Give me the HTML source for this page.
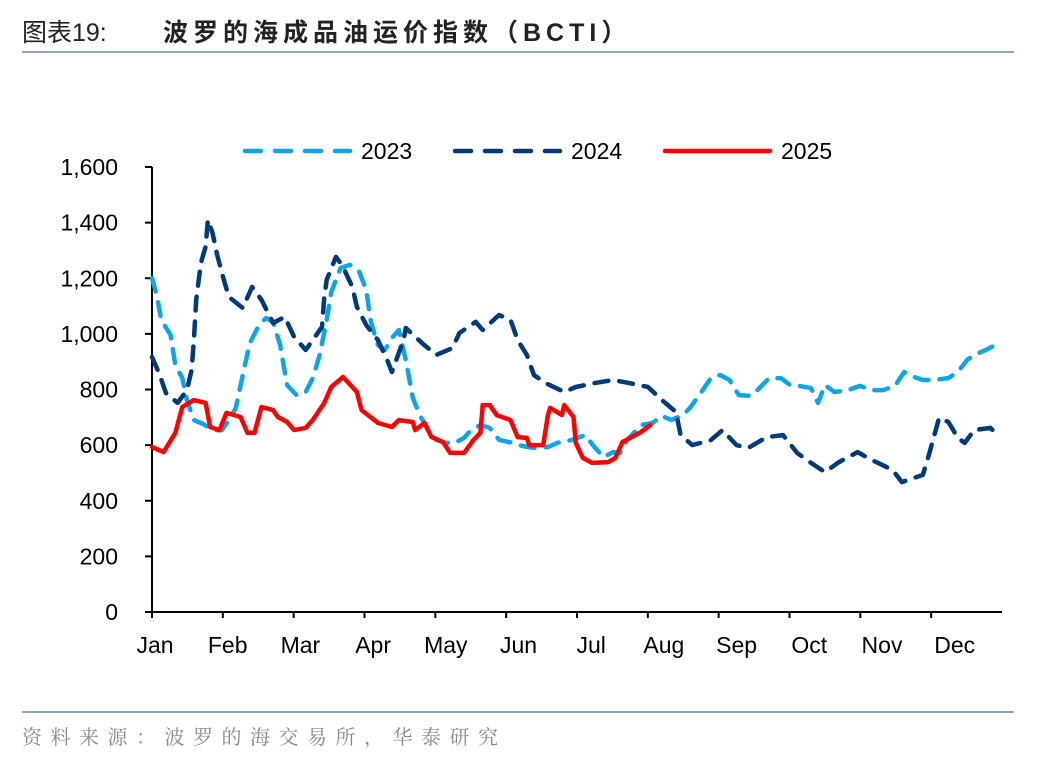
<!DOCTYPE html>
<html><head><meta charset="utf-8"><style>
body{margin:0;background:#fff;width:1048px;height:760px;overflow:hidden;font-family:"Liberation Sans","Noto Sans CJK SC",sans-serif}
</style></head><body>
<svg width="1048" height="760" xmlns="http://www.w3.org/2000/svg">
<text x="22" y="41" font-size="25" fill="#222" font-family="'Liberation Sans','Noto Sans CJK SC',sans-serif">图表19:<tspan x="163" font-weight="bold" letter-spacing="5">波罗的海成品油运价指数（BCTI）</tspan></text>
<line x1="22" y1="52" x2="1014" y2="52" stroke="#8fa4c0" stroke-width="2"/>
<line x1="22" y1="712" x2="1014" y2="712" stroke="#8fa4c0" stroke-width="2"/>
<text x="22" y="744" font-size="20" fill="#888" font-family="'Liberation Serif','Noto Serif CJK SC',serif" letter-spacing="8.5">资料来源：波罗的海交易所，华泰研究</text>
<g id="axes"></g>
<g id="series"></g>
<g id="legend"></g>
</svg>
<script>
const yTicks=[0,200,400,600,800,1000,1200,1400,1600];
const yTickLabels=["0","200","400","600","800","1,000","1,200","1,400","1,600"];
const months=["Jan","Feb","Mar","Apr","May","Jun","Jul","Aug","Sep","Oct","Nov","Dec"];
const seriesNames=["2023","2024","2025"];
const days2023=[0,2,4,8,10,13,15,18,22,26,30,33,36,39,42,46,49,52,55,58,62,66,69,72,75,77,81,85,89,92,94,97,100,103,106,109,112,115,119,122,126,130,134,137,141,145,149,155,159,164,170,175,180,186,190,194,198,201,204,210,215,219,223,228,231,235,240,244,248,252,257,260,265,270,274,278,283,286,289,293,299,304,309,314,319,323,326,331,336,342,346,350,353,358,363];
const vals2023=[1201,1140,1050,996,888,841,762,690,676,654,654,690,734,852,967,1032,1057,1043,960,816,780,791,841,924,1050,1151,1237,1248,1223,1158,1043,960,942,985,1014,906,770,708,647,619,608,608,626,654,672,662,619,608,597,590,593,611,618,636,593,557,575,572,618,672,680,705,690,708,734,780,841,852,834,780,777,798,841,841,816,813,805,752,816,791,798,813,798,798,813,863,849,834,834,841,863,906,924,942,964];
const days2024=[0,3,6,11,15,17,18,19,21,23,24,26,28,30,33,39,43,47,52,57,61,66,70,73,74,75,79,82,86,88,92,97,101,103,108,109,116,122,129,132,139,142,149,154,157,161,164,169,177,182,190,198,205,213,219,225,227,232,240,245,251,256,264,271,277,283,289,295,303,309,318,322,331,333,338,342,346,349,353,360,364];
const vals2024=[917,859,787,752,798,870,978,1122,1255,1313,1410,1363,1284,1219,1133,1093,1169,1122,1039,1061,989,942,989,1025,1133,1194,1277,1241,1169,1097,1032,978,906,863,978,1021,967,924,949,1003,1043,1014,1068,1050,978,924,852,823,791,809,823,834,823,809,762,719,636,600,618,654,600,590,629,636,572,536,503,539,575,547,511,467,493,547,698,683,626,608,654,662,629];
const days2025=[0,5,10,13,18,23,25,29,32,38,41,44,47,52,54,58,61,66,69,74,77,82,88,90,97,103,106,112,113,117,120,125,128,134,138,141,142,145,148,154,157,161,162,168,170,171,176,177,181,182,185,189,196,199,202,206,210,214];
const vals2025=[593,575,644,737,762,752,665,654,716,701,644,644,737,726,701,683,654,662,690,752,809,845,791,726,680,665,690,683,654,680,629,611,572,572,618,644,744,744,708,690,629,626,600,600,708,734,708,744,701,608,554,536,539,554,611,629,647,672];

const NS="http://www.w3.org/2000/svg";
const X0=152,X1=1002,Y0=612,Y1=167;
const xDay=d=>X0+(d/365)*(X1-X0);
const yVal=v=>Y0-(v/1600)*(Y0-Y1);
function mk(tag,attrs,parent){const e=document.createElementNS(NS,tag);for(const k in attrs)e.setAttribute(k,attrs[k]);parent.appendChild(e);return e;}
const axes=document.getElementById('axes');
let ya=mk('line',{x1:X0,y1:Y1,x2:X0,y2:Y0,stroke:'#000','stroke-width':2},axes);


let xa=mk('line',{x1:X0,y1:Y0,x2:X1,y2:Y0,stroke:'#000','stroke-width':2},axes);


yTicks.forEach((v,i)=>{
  const t=mk('line',{x1:X0-7,y1:yVal(v),x2:X0,y2:yVal(v),stroke:'#000','stroke-width':2},axes);
  
  
  const l=mk('text',{x:118,y:yVal(v)+8,'text-anchor':'end','font-size':23,fill:'#000'},axes);
  l.textContent=yTickLabels[i];
  
  
});
const step=(X1-X0)/12;
months.forEach((m,i)=>{
  const t=mk('line',{x1:X0+i*step,y1:Y0,x2:X0+i*step,y2:Y0+6,stroke:'#000','stroke-width':2},axes);
  
  
  const l=mk('text',{x:155+i*72.7,y:653,'text-anchor':'middle','font-size':23,fill:'#000'},axes);
  l.textContent=m;
  
  
});
const ser=document.getElementById('series');
const styles=[{c:'#0ea5e8',d:'14 11'},{c:'#003a7a',d:'14 11'},{c:'#ff0000',d:''}];
[[days2023,vals2023],[days2024,vals2024],[days2025,vals2025]].forEach((s,i)=>{
  const pts=s[0].map((d,j)=>xDay(d).toFixed(1)+','+yVal(s[1][j]).toFixed(1)).join(' ');
  const a={points:pts,fill:'none',stroke:styles[i].c,'stroke-width':4.5,'stroke-linejoin':'round','stroke-linecap':'round'};
  if(styles[i].d)a['stroke-dasharray']=styles[i].d;
  const p=mk('polyline',a,ser);
  
  
});
const leg=document.getElementById('legend');
const lx=[245,455,665];
seriesNames.forEach((n,i)=>{
  const a={x1:lx[i],y1:151,x2:lx[i]+105,y2:151,stroke:styles[i].c,'stroke-width':4.5,'stroke-linecap':'round'};
  if(styles[i].d)a['stroke-dasharray']='16 14';
  const l=mk('line',a,leg);
  
  
  const t=mk('text',{x:lx[i]+116,y:159,'font-size':23,fill:'#000'},leg);
  t.textContent=n;
  
  
});
</script>
</body></html>
